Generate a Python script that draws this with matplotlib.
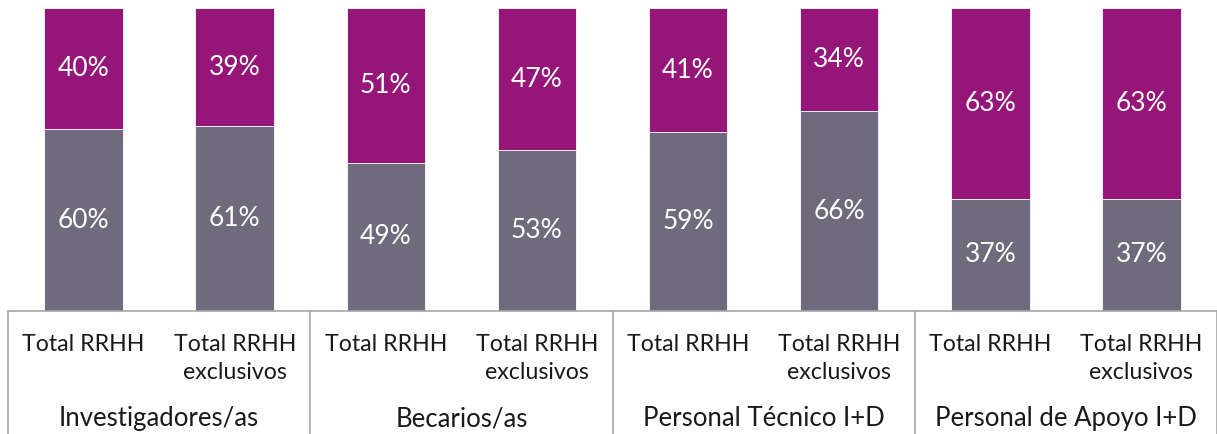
import numpy as np
import matplotlib.pyplot as plt
from matplotlib.transforms import blended_transform_factory

plt.rcParams['font.family'] = ['Lato', 'DejaVu Sans']

grupos = ["Investigadores/as", "Becarios/as", "Personal Técnico I+D", "Personal de Apoyo I+D"]
categorias = ["Total RRHH", "Total RRHH\nexclusivos"] * 4
valores_gris = [60, 61, 49, 53, 59, 66, 37, 37]
valores_morado = [40, 39, 51, 47, 41, 34, 63, 63]

color_gris = "#6f6b7c"
color_morado = "#951578"

fig = plt.figure(figsize=(12.17, 4.34), dpi=100)
ax = fig.add_axes([8 / 1217, 123 / 434, 1 - 8 / 1217, 303 / 434])

x = np.arange(len(categorias))
ax.bar(x, valores_gris, width=0.52, color=color_gris, edgecolor="white", linewidth=0.6)
ax.bar(x, valores_morado, width=0.52, bottom=valores_gris, color=color_morado,
       edgecolor="white", linewidth=0.6)

# etiquetas de porcentaje
for i in range(len(x)):
    ax.text(x[i], valores_gris[i] / 2, f"{valores_gris[i]}%", ha="center", va="center",
            color="white", fontsize=19)
    ax.text(x[i], valores_gris[i] + valores_morado[i] / 2, f"{valores_morado[i]}%",
            ha="center", va="center", color="white", fontsize=19)

ax.set_xlim(-0.5, len(x) - 0.5)
ax.set_ylim(0, 100)
ax.set_xticks([])
ax.set_yticks([])
for s in ["top", "left", "right"]:
    ax.spines[s].set_visible(False)
ax.spines["bottom"].set_color("#a6a6a6")
ax.spines["bottom"].set_linewidth(1.2)

trans = blended_transform_factory(ax.transData, ax.transAxes)
for i, cat in enumerate(categorias):
    ax.text(x[i], -0.075, cat, ha="center", va="top", fontsize=16.7, transform=trans,
            color="#1a1a1a", linespacing=1.4)

for g, nombre in enumerate(grupos):
    ax.text(2 * g + 0.5, -0.355, nombre, ha="center", va="center", fontsize=18.5,
            transform=trans, color="#1a1a1a")

for sep in np.arange(-0.5, len(x), 2):
    ax.plot([sep, sep], [0, -0.45], transform=trans, color="#a6a6a6", linewidth=1.2,
            clip_on=False)

fig.savefig("out.png", dpi=100)
